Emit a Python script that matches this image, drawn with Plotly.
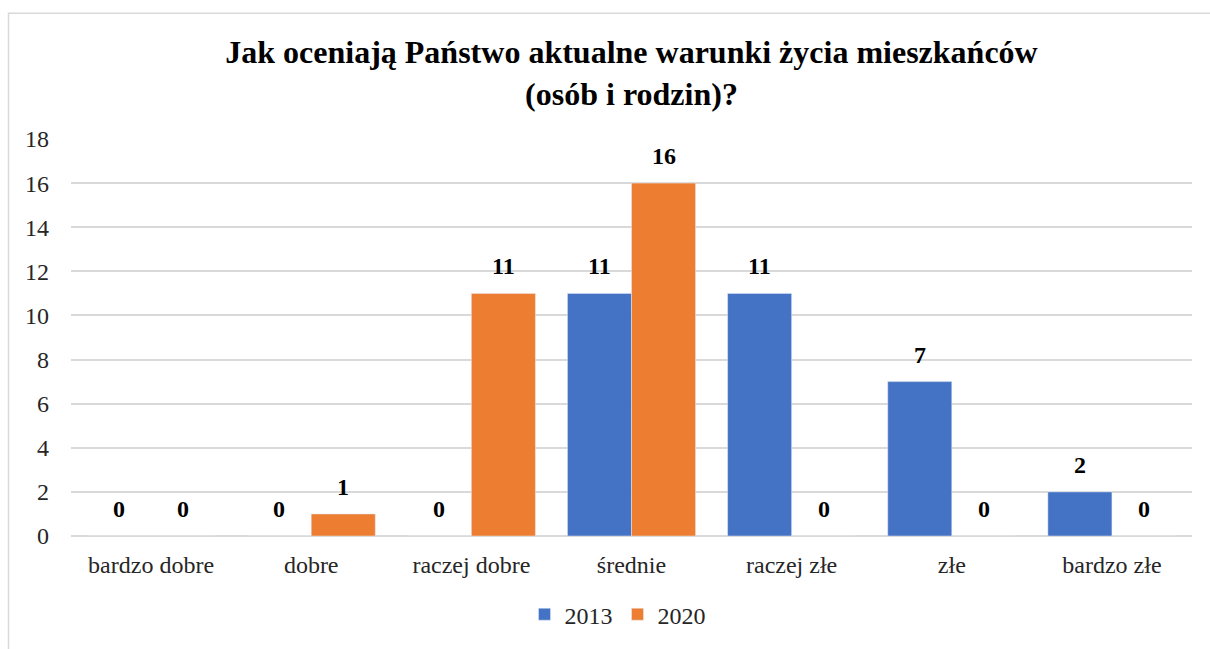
import plotly.graph_objects as go

categories = ["bardzo dobre", "dobre", "raczej dobre", "średnie", "raczej złe", "złe", "bardzo złe"]
values_2013 = [0, 0, 0, 11, 11, 7, 2]
values_2020 = [0, 1, 11, 16, 0, 0, 0]
y_ticks = [0, 2, 4, 6, 8, 10, 12, 14, 16, 18]

W, H = 1210, 649
L, R, T, B = 71, 18, 139, 111
pw, ph = W - L - R, H - T - B

font = "Liberation Serif, DejaVu Serif, serif"

fig = go.Figure()
fig.add_trace(go.Bar(name="2013", x=categories, y=values_2013, marker_color="#4472C4"))
fig.add_trace(go.Bar(name="2020", x=categories, y=values_2020, marker_color="#ED7D31"))

# value labels above each bar (offset half a bar width left/right within the group)
half_bar = pw / len(categories) * 0.8 / 4
annotations = []
for series, shift in ((values_2013, -half_bar), (values_2020, half_bar)):
    for cat, v in zip(categories, series):
        annotations.append(dict(x=cat, y=v, xref="x", yref="y", text=f"<b>{v}</b>",
                                showarrow=False, xanchor="center", yanchor="bottom",
                                xshift=shift, yshift=12,
                                font=dict(family=font, size=24, color="#000000")))

def px_x(x):
    return (x - L) / pw

def px_y(y):
    return (H - B - y) / ph

fig.update_layout(
    width=W, height=H,
    margin=dict(l=L, r=R, t=T, b=B),
    paper_bgcolor="white", plot_bgcolor="white",
    barmode="group", bargap=0.2, bargroupgap=0,
    title=dict(text="<b>Jak oceniają Państwo aktualne warunki życia mieszkańców<br>(osób i rodzin)?</b>",
               x=0.5, xref="paper", xanchor="center", y=1 - 63 / H, yanchor="middle",
               font=dict(family=font, size=32, color="#000000")),
    font=dict(family=font, size=24, color="#000000"),
    xaxis=dict(showgrid=False, showline=False, ticks="", ticklabelstandoff=12,
               tickfont=dict(family=font, size=24, color="#262626")),
    yaxis=dict(range=[0, 18], tickvals=y_ticks, showgrid=True, gridcolor="#d9d9d9", gridwidth=1.5,
               zeroline=True, zerolinecolor="#d9d9d9", zerolinewidth=1.5, showline=False,
               ticks="", ticklabelstandoff=21,
               tickfont=dict(family=font, size=24, color="#262626")),
    legend=dict(orientation="h", x=0.5 - 14 / pw, xanchor="center", y=px_y(617), yanchor="middle",
                font=dict(family=font, size=24, color="#262626"), itemwidth=30, traceorder="normal"),
    annotations=annotations,
    shapes=[dict(type="rect", xref="paper", yref="paper",
                 x0=px_x(8.5), x1=px_x(1215), y0=px_y(655), y1=px_y(12.5),
                 line=dict(color="#d9d9d9", width=1.5), fillcolor="rgba(0,0,0,0)", layer="below")],
)

fig.write_html("out.html", config={"displayModeBar": False},
               post_script="document.body.style.margin='0px';")
